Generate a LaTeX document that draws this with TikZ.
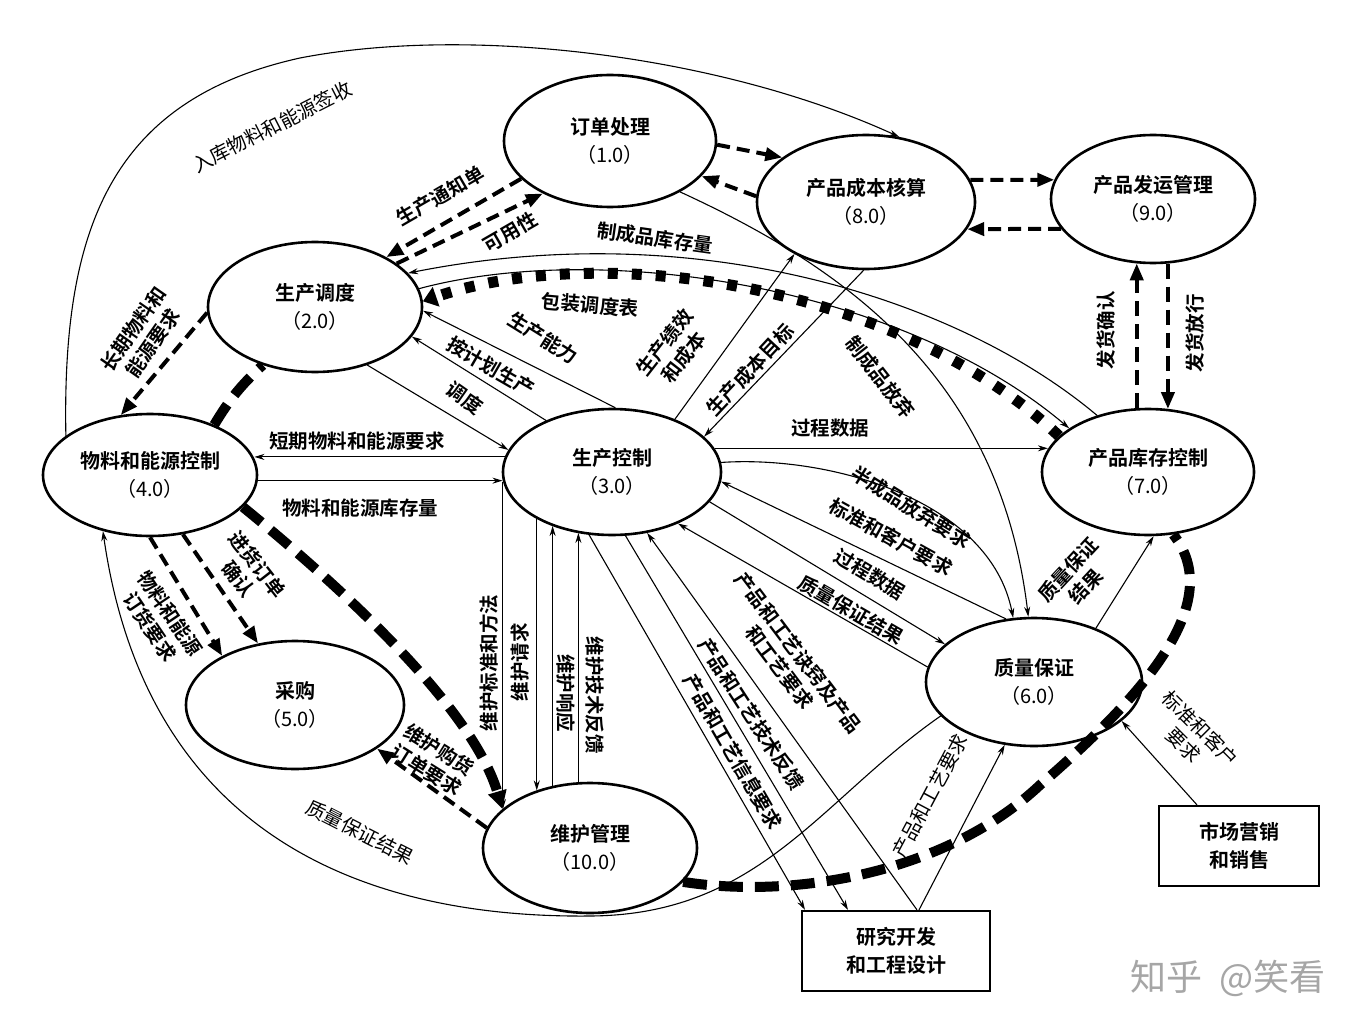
\documentclass[tikz,border=0pt]{standalone}
\usepackage{fontspec}
\setmainfont{Noto Sans CJK SC}[BoldFont={Noto Sans CJK SC Bold}]
\usetikzlibrary{arrows.meta,shapes.geometric,calc}
\tikzset{
  proc/.style={ellipse, draw, line width=2.6pt, inner sep=0pt, align=center,
    font=\fontsize{20}{28}\selectfont\bfseries},
  ext/.style={rectangle, draw, line width=2.2pt, inner sep=0pt, align=center,
    minimum width=188pt, minimum height=80pt, font=\fontsize{20}{28}\selectfont\bfseries},
  lbl/.style={inner sep=0pt, align=center, font=\fontsize{19.5}{24}\selectfont\bfseries},
  lbll/.style={inner sep=0pt, align=center, font=\fontsize{19.5}{24}\selectfont},
  thin/.style={line width=1.1pt, -{Stealth[length=10pt,width=6pt]}},
  dflow/.style={line width=4pt, dash pattern=on 13pt off 7pt, -{Triangle[length=17pt,width=13pt]}},
  bound/.style={line width=10pt, dash pattern=on 24pt off 12pt},
  boundsq/.style={line width=11pt, dash pattern=on 10pt off 14pt},
}
\begin{document}
\begin{tikzpicture}[x=1pt,y=-1pt]
\fill[white] (0,0) rectangle (1365,1035);
\useasboundingbox (0,0) rectangle (1365,1035);

% processes
\node[proc, minimum width=212pt, minimum height=132pt] (n1) at (610,141) {订单处理\\{\mdseries（1.0）}};
\node[proc, minimum width=218pt, minimum height=134pt] (n8) at (866,202) {产品成本核算\\{\mdseries（8.0）}};
\node[proc, minimum width=204pt, minimum height=128pt] (n9) at (1153,199) {产品发运管理\\{\mdseries（9.0）}};
\node[proc, minimum width=214pt, minimum height=130pt] (n2) at (315,307) {生产调度\\{\mdseries（2.0）}};
\node[proc, minimum width=214pt, minimum height=122pt] (n4) at (150,475) {物料和能源控制\\{\mdseries（4.0）}};
\node[proc, minimum width=218pt, minimum height=126pt] (n3) at (612,472) {生产控制\\{\mdseries（3.0）}};
\node[proc, minimum width=212pt, minimum height=126pt] (n7) at (1148,472) {产品库存控制\\{\mdseries（7.0）}};
\node[proc, minimum width=218pt, minimum height=128pt] (n5) at (295,705) {采购\\{\mdseries（5.0）}};
\node[proc, minimum width=216pt, minimum height=128pt] (n6) at (1034,682) {质量保证\\{\mdseries（6.0）}};
\node[proc, minimum width=214pt, minimum height=130pt] (n10) at (590,848) {维护管理\\{\mdseries（10.0）}};
\node[ext] (rd) at (896,951) {研究开发\\和工程设计};
\node[ext, minimum width=160pt] (mk) at (1239,846) {市场营销\\和销售};

% boundary (thick dashed)
\draw[bound] (n4.38) to[bend left=8] (n2.228);
\draw[bound, -{Triangle[length=18pt,width=18pt]}] (n4.-19) .. controls (320,570) and (470,700) .. (n10.156);
\draw[bound] (n10.-20) .. controls (800,900) and (950,870) .. (1040,785)
   .. controls (1150,690) and (1225,600) .. (n7.-68);
\draw[boundsq, -{Triangle[length=14pt,width=20pt]}] (n7.158) .. controls (900,285) and (600,240) .. (n2.3);

% dashed flows
\draw[dflow] (n1.203) -- (n2.35);
\draw[dflow] (n2.28) -- (n1.218);
\draw[dflow] (n1.-2) -- (n8.152);
\draw[dflow] (n8.177) -- (n1.-21);
\draw[dflow] (n8.12) -- (n9.169);
\draw[dflow] (n9.198) -- (n8.-15);
\draw[dflow, dash pattern=on 15pt off 8pt] (n7.100) -- (n7.100 |- n9.255);
\draw[dflow, dash pattern=on 15pt off 8pt] (n9.-77) -- (n9.-77 |- n7.71);
\draw[dflow] (n2.183) -- (n4.116);
\draw[dflow] (n4.270) -- (n5.146);
\draw[dflow] (n4.-61) -- (n5.121);
\draw[dflow] (n10.169) -- (n5.-28);

% thin flows
\draw[thin] (n4.155) .. controls (62,230) and (110,100) .. (300,58)
   .. controls (470,25) and (720,55) .. (n8.63);
\draw[thin] (n7.132) .. controls (960,300) and (700,215) .. (n2.20);
\draw[thin] (n2.10) .. controls (600,240) and (900,285) .. (n7.151);
\draw[thin] (n3.87) -- (n2.-2);
\draw[thin] (n3.142) -- (n2.-17);
\draw[thin] (n2.-48) -- (n3.168);
\draw[thin] (n3.172) -- (n3.172 -| n4.9);
\draw[thin] (n4.-3) -- (n4.-3 -| n3.184);
\draw[thin] (n3.40) -- (n8.216);
\draw[thin] (n8.268) -- (n3.21);
\draw[thin] (n1.-36) .. controls (850,270) and (1000,380) .. (n6.95);
\draw[thin] (n3.13) -- (n3.13 -| n7.167);
\draw[thin] (n3.5) .. controls (830,455) and (990,500) .. (n6.108);
\draw[thin] (n6.114) -- (n3.-5);
\draw[thin] (n3.-17) -- (n6.157);
\draw[thin] (n6.172) -- (n3.-38);
\draw[thin] (n3.185) -- (n3.185 |- n10.156);
\draw[thin] (n3.212) -- (n3.212 |- n10.133);
\draw[thin] (n10.121) -- (n10.121 |- n3.222);
\draw[thin] (n10.100) -- (n10.100 |- n3.240);
\draw[thin] ([xshift=21pt]rd.north) -- (n3.-60);
\draw[thin] (n3.-78) -- ([xshift=-48pt]rd.north);
\draw[thin] (n3.250) -- ([xshift=-91pt]rd.north);
\draw[thin] ([xshift=23pt]rd.north) -- (n6.245);
\draw[thin] (n6.41) -- (n7.-85);
\draw[thin] ([xshift=-42pt]mk.north) -- (n6.-24);
\draw[thin] (n6.200) .. controls (820,800) and (760,915) .. (590,916)
   .. controls (400,918) and (150,860) .. (n4.230);

% labels
\node[lbll, rotate=27] (t1) at (272,127) {入库物料和能源签收};
\node[lbl, rotate=30] (t2) at (440,196) {生产通知单};
\node[lbl, rotate=30] (t3) at (510,232) {可用性};
\node[lbl, rotate=-8] (t4) at (655,238) {制成品库存量};
\node[lbl, rotate=-5] (t5) at (590,305) {包装调度表};
\node[lbl, rotate=-32] (t6) at (543,338) {生产能力};
\node[lbl, rotate=-30] (t7) at (491,367) {按计划生产};
\node[lbl, rotate=-35] (t8) at (465,398) {调度};
\node[lbl, rotate=52] (t9) at (674,350) {生产绩效\\和成本};
\node[lbl, rotate=47] (t10) at (750,370) {生产成本目标};
\node[lbl, rotate=-52] (t11) at (880,377) {制成品放弃};
\node[lbl] (t12) at (830,428) {过程数据};
\node[lbl] (t13) at (357,441) {短期物料和能源要求};
\node[lbl] (t14) at (360,508) {物料和能源库存量};
\node[lbl, rotate=55] (t15) at (143,336) {长期物料和\\能源要求};
\node[lbl, rotate=-52] (t16) at (248,572) {进货订单\\确认};
\node[lbl, rotate=-56] (t17) at (160,620) {物料和能源\\订货要求};
\node[lbl, rotate=-32] (t18) at (433,760) {维护购货\\订单要求};
\node[lbll, rotate=-27] (t19) at (360,832) {质量保证结果};
\node[lbl, rotate=90] (t20) at (489,663) {维护标准和方法};
\node[lbl, rotate=90] (t21) at (520,662) {维护请求};
\node[lbl, rotate=-90] (t22) at (566,693) {维护响应};
\node[lbl, rotate=-90] (t23) at (595,695) {维护技术反馈};
\node[lbl, rotate=-53] (t24) at (789,660) {产品和工艺诀窍及产品\\和工艺要求};
\node[lbl, rotate=-57] (t25) at (751,714) {产品和工艺技术反馈};
\node[lbl, rotate=-60] (t26) at (733,752) {产品和工艺信息要求};
\node[lbl, rotate=-32] (t27) at (911,507) {半成品放弃要求};
\node[lbl, rotate=-29] (t28) at (891,537) {标准和客户要求};
\node[lbl, rotate=-31] (t29) at (870,574) {过程数据};
\node[lbl, rotate=-30] (t30) at (851,610) {质量保证结果};
\node[lbll, rotate=62] (t31) at (930,796) {产品和工艺要求};
\node[lbl, rotate=47] (t32) at (1077,578) {质量保证\\结果};
\node[lbll, rotate=-45] (t33) at (1192,737) {标准和客户\\要求};
\node[lbl, rotate=90] (t34) at (1106,330) {发货确认};
\node[lbl, rotate=90] (t35) at (1195,333) {发货放行};
\node[font=\fontsize{36}{36}\selectfont, text=black!35] (wm) at (1228,978) {知乎\ \ @笑看};
\end{tikzpicture}
\end{document}
